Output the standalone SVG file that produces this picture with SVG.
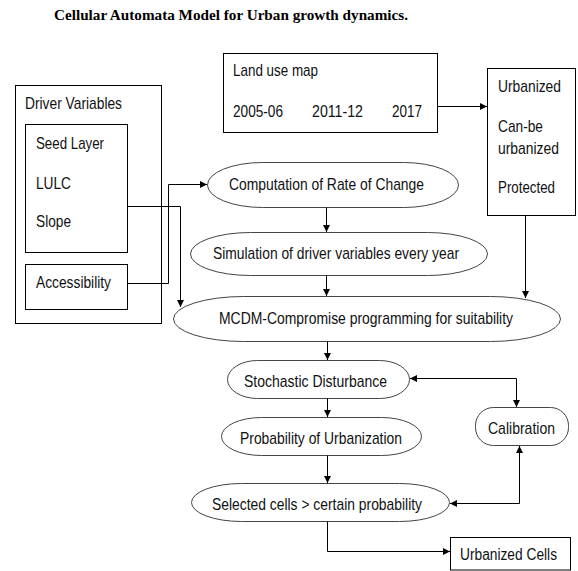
<svg xmlns="http://www.w3.org/2000/svg" width="578" height="571" viewBox="0 0 578 571">
<style>
.box{fill:#fff;stroke:#000;stroke-width:1}
.term{fill:#fff;stroke:#444;stroke-width:1}
.t{font-family:"Liberation Sans",Arial,sans-serif;font-size:17px;fill:#111}
.title{font-family:"Liberation Serif","Times New Roman",serif;font-size:15px;font-weight:bold;fill:#000}
.c{fill:none;stroke:#000;stroke-width:1}
</style>
<defs>
<marker id="ah" viewBox="0 0 10 10" refX="10" refY="5" markerWidth="7" markerHeight="7" markerUnits="userSpaceOnUse" orient="auto-start-reverse">
<path d="M0,0 L10,5 L0,10 z" fill="#000"/>
</marker>
</defs>
<rect width="578" height="571" fill="#fff"/>
<text class="title" x="54" y="20" textLength="354" lengthAdjust="spacingAndGlyphs">Cellular Automata Model for Urban growth dynamics.</text>

<g id="driver-variables">
<rect class="box" x="15.5" y="85.5" width="146" height="238"/>
<text class="t" x="25" y="108.5" textLength="97" lengthAdjust="spacingAndGlyphs">Driver Variables</text>
</g>
<g id="seed-layer">
<rect class="box" x="25.5" y="124.5" width="102" height="128"/>
<text class="t" x="36" y="149" textLength="68" lengthAdjust="spacingAndGlyphs">Seed Layer</text>
<text class="t" x="36" y="188.5" textLength="35" lengthAdjust="spacingAndGlyphs">LULC</text>
<text class="t" x="36" y="227" textLength="35" lengthAdjust="spacingAndGlyphs">Slope</text>
</g>
<g id="accessibility">
<rect class="box" x="25.5" y="264.5" width="102" height="45"/>
<text class="t" x="36" y="288" textLength="75" lengthAdjust="spacingAndGlyphs">Accessibility</text>
</g>
<g id="land-use-map">
<rect class="box" x="223.5" y="53.5" width="214" height="79"/>
<text class="t" x="233" y="76" textLength="85" lengthAdjust="spacingAndGlyphs">Land use map</text>
<text class="t" x="233" y="116.5" textLength="50" lengthAdjust="spacingAndGlyphs">2005-06</text>
<text class="t" x="312" y="116.5" textLength="51" lengthAdjust="spacingAndGlyphs">2011-12</text>
<text class="t" x="392" y="116.5" textLength="30" lengthAdjust="spacingAndGlyphs">2017</text>
</g>
<g id="classes">
<rect class="box" x="487.5" y="68.5" width="88" height="147"/>
<text class="t" x="498" y="91.5" textLength="63" lengthAdjust="spacingAndGlyphs">Urbanized</text>
<text class="t" x="498" y="131.5" textLength="45" lengthAdjust="spacingAndGlyphs">Can-be</text>
<text class="t" x="498" y="154" textLength="61" lengthAdjust="spacingAndGlyphs">urbanized</text>
<text class="t" x="498" y="192.5" textLength="57" lengthAdjust="spacingAndGlyphs">Protected</text>
</g>
<g id="computation">
<rect class="term" x="207.5" y="162.5" width="251" height="45" rx="55" ry="22.5"/>
<text class="t" x="229" y="189.5" textLength="195" lengthAdjust="spacingAndGlyphs">Computation of Rate of Change</text>
</g>
<g id="simulation">
<rect class="term" x="190.5" y="232.5" width="297" height="43" rx="60" ry="21.5"/>
<text class="t" x="213" y="259" textLength="246" lengthAdjust="spacingAndGlyphs">Simulation of driver variables every year</text>
</g>
<g id="mcdm">
<rect class="term" x="173.5" y="296.5" width="387" height="45" rx="70" ry="22.5"/>
<text class="t" x="219" y="324" textLength="294" lengthAdjust="spacingAndGlyphs">MCDM-Compromise programming for suitability</text>
</g>
<g id="stochastic">
<rect class="term" x="227.5" y="360.5" width="182" height="38" rx="30" ry="19"/>
<text class="t" x="244" y="387" textLength="143" lengthAdjust="spacingAndGlyphs">Stochastic Disturbance</text>
</g>
<g id="probability">
<rect class="term" x="221.5" y="417.5" width="200" height="38" rx="40" ry="19"/>
<text class="t" x="240" y="444" textLength="162" lengthAdjust="spacingAndGlyphs">Probability of Urbanization</text>
</g>
<g id="selected">
<rect class="term" x="191.5" y="483.5" width="258" height="38" rx="50" ry="19"/>
<text class="t" x="212" y="510" textLength="210" lengthAdjust="spacingAndGlyphs">Selected cells &gt; certain probability</text>
</g>
<g id="calibration">
<rect class="term" x="475.5" y="407.5" width="93" height="38" rx="18" ry="18"/>
<text class="t" x="488" y="434" textLength="67" lengthAdjust="spacingAndGlyphs">Calibration</text>
</g>
<g id="urbanized-cells">
<rect class="box" x="450.5" y="537.5" width="120" height="32.5"/>
<text class="t" x="460" y="559.5" font-size="16" style="font-size:16px" textLength="97" lengthAdjust="spacingAndGlyphs">Urbanized Cells</text>
</g>

<g id="connectors">
<path class="c" d="M127.5 206.5 H180.5 V307" marker-end="url(#ah)"/>
<path class="c" d="M127.5 283.5 H168.5 V184.5 H207" marker-end="url(#ah)"/>
<path class="c" d="M437.5 106.5 H487" marker-end="url(#ah)"/>
<path class="c" d="M525.5 215.5 V298" marker-end="url(#ah)"/>
<path class="c" d="M326.5 207.5 V232" marker-end="url(#ah)"/>
<path class="c" d="M326.5 275.5 V296" marker-end="url(#ah)"/>
<path class="c" d="M327.5 341.5 V360" marker-end="url(#ah)"/>
<path class="c" d="M327.5 398.5 V417" marker-end="url(#ah)"/>
<path class="c" d="M327.5 455.5 V483" marker-end="url(#ah)"/>
<path class="c" d="M410 378.5 H516.5 V407" marker-start="url(#ah)" marker-end="url(#ah)"/>
<path class="c" d="M519.5 446 V503.5 H450" marker-start="url(#ah)" marker-end="url(#ah)"/>
<path class="c" d="M327.5 521.5 V551.5 H450" marker-end="url(#ah)"/>
</g>
</svg>
